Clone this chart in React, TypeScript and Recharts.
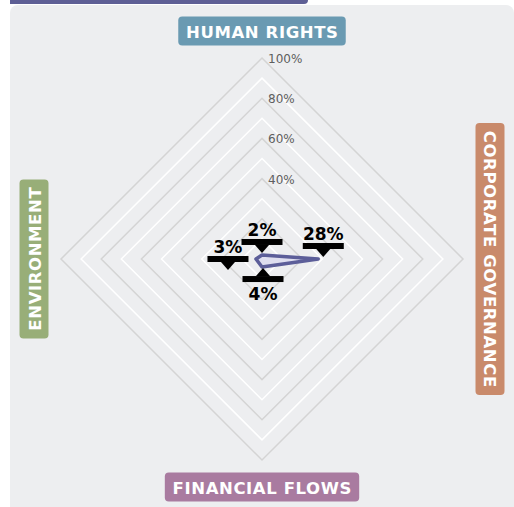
import React from 'react';
import { RadarChart, Radar, PolarGrid, PolarAngleAxis, PolarRadiusAxis } from 'recharts';

const pillars = ['HUMAN RIGHTS', 'CORPORATE GOVERNANCE', 'FINANCIAL FLOWS', 'ENVIRONMENT'];
const scores = [2, 28, 4, 3];
const pillarColors = ['#6a9ab2', '#c98a6b', '#a97ba0', '#98ae78'];
const radiusTickCount = 6;

const data = pillars.map((name, i) => ({ name, score: scores[i] }));

const CX = 262;
const CY = 259;
const R = 201;
const LABEL_R = 228;
const FONT = "'DejaVu Sans', sans-serif";
const LABEL_SIZE = 16.5;
const LABEL_SPACING = 0.6;

// grey rings every 20%, white rings in between
const greyRings = [0.2, 0.4, 0.6, 0.8, 1].map((f) => f * R);
const whiteRings = [0.1, 0.3, 0.5, 0.7, 0.9].map((f) => f * R);

// where each marker's tip sits relative to its point, and which way it points
const markerPlacement = [
  { dx: 0, dy: -2, up: false },
  { dx: 5, dy: -2, up: false },
  { dx: 1, dy: 1, up: true },
  { dx: -28, dy: 11, up: false },
];

const measure = (text: string, font: string) => {
  const ctx = document.createElement('canvas').getContext('2d');
  if (!ctx) return text.length * 11;
  ctx.font = font;
  return ctx.measureText(text).width;
};

const AxisTick = (props: any) => {
  const { x, y, payload } = props;
  const idx = pillars.indexOf(payload.value);
  const dx = x - CX;
  const dy = y - CY;
  const len = Math.sqrt(dx * dx + dy * dy) || 1;
  const lx = CX + (dx / len) * LABEL_R;
  const ly = CY + (dy / len) * LABEL_R;
  const text = String(payload.value);
  const w = measure(text, `bold ${LABEL_SIZE}px ${FONT}`) + text.length * LABEL_SPACING + 15;
  const h = 29;
  const rot = idx === 1 ? 90 : idx === 3 ? -90 : 0;
  return (
    <g transform={`translate(${lx},${ly}) rotate(${rot})`}>
      <rect x={-w / 2} y={-h / 2} width={w} height={h} rx={4} fill={pillarColors[idx]} />
      <text
        x={LABEL_SPACING / 2}
        y={1}
        textAnchor="middle"
        dominantBaseline="central"
        fill="#ffffff"
        fontFamily={FONT}
        fontWeight="bold"
        fontSize={LABEL_SIZE}
        letterSpacing={LABEL_SPACING}
      >
        {text}
      </text>
    </g>
  );
};

const RadiusTick = (props: any) => {
  const { x, y, payload } = props;
  if (payload.value < 40) return <g />;
  return (
    <text x={x + 6} y={y + 1} dominantBaseline="central" fill="#5e5e5e" fontFamily={FONT} fontSize={12}>
      {payload.value}%
    </text>
  );
};

const Marker = (props: any) => {
  const { cx, cy, index } = props;
  const value = props.value ?? props.payload?.score;
  const p = markerPlacement[index] || markerPlacement[0];
  const tx = cx + p.dx;
  const ty = cy + p.dy;
  const s = p.up ? -1 : 1;
  const bw = 41;
  return (
    <g key={`m-${index}`}>
      <polygon points={`${tx},${ty} ${tx - 7},${ty - 8 * s} ${tx + 7},${ty - 8 * s}`} fill="#000" />
      <rect x={tx - bw / 2} y={p.up ? ty + 8 : ty - 14} width={bw} height={6} fill="#000" />
      <text
        x={tx}
        y={p.up ? ty + 32 : ty - 17}
        textAnchor="middle"
        fill="#000"
        fontFamily={FONT}
        fontWeight="bold"
        fontSize={17}
      >
        {value}%
      </text>
    </g>
  );
};

export default function App() {
  return (
    <div style={{ position: 'absolute', left: 0, top: 0, width: 514, height: 507, background: '#fff', overflow: 'hidden' }}>
      <div style={{ position: 'absolute', left: 10, top: 5, width: 504, height: 510, borderRadius: 8, background: '#edeef0' }} />
      <div style={{ position: 'absolute', left: 10, top: 0, width: 298, height: 4, borderBottomRightRadius: 4, background: '#5e5f95' }} />
      <div style={{ position: 'absolute', left: 0, top: 0 }}>
        <RadarChart width={514} height={507} data={data} cx={CX} cy={CY} outerRadius={R}>
          <PolarGrid gridType="polygon" radialLines={false} polarRadius={whiteRings} stroke="#ffffff" strokeWidth={1.5} />
          <PolarGrid gridType="polygon" radialLines={false} polarRadius={greyRings} stroke="#d4d4d4" strokeWidth={1.5} />
          <PolarAngleAxis dataKey="name" tick={<AxisTick />} tickLine={false} axisLine={false} />
          <PolarRadiusAxis
            angle={90}
            domain={[0, 100]}
            tickCount={radiusTickCount}
            axisLine={false}
            tick={<RadiusTick />}
          />
          <Radar
            dataKey="score"
            stroke="#5c5e99"
            strokeWidth={3.5}
            strokeLinejoin="round"
            fill="#dcdcee"
            fillOpacity={0.9}
            dot={(p: any) => <Marker {...p} />}
            isAnimationActive={false}
          />
        </RadarChart>
      </div>
    </div>
  );
}
